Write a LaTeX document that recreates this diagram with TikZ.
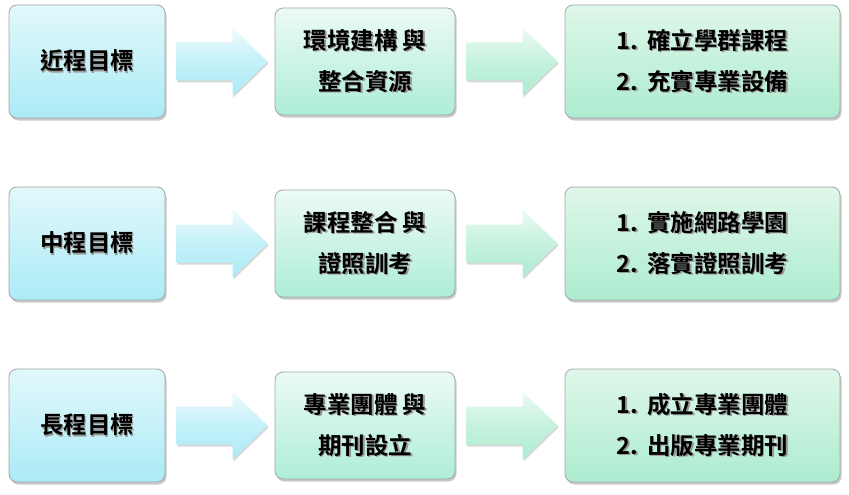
\documentclass[tikz,border=0pt]{standalone}
\usepackage{fontspec}
\newfontfamily\cjk{Noto Sans CJK TC}[BoldFont={Noto Sans CJK TC Bold}]
\usetikzlibrary{shadows,calc}
\definecolor{cyanA}{HTML}{E2F8FB}
\definecolor{cyanB}{HTML}{ABEBF6}
\definecolor{mintA}{HTML}{ECFAF6}
\definecolor{mintB}{HTML}{AEEDDA}
\definecolor{greenA}{HTML}{DFF7EA}
\definecolor{greenB}{HTML}{ADECD0}
\definecolor{boxline}{HTML}{A0A8A8}
\newcommand\shd[1]{\leavevmode\rlap{\kern1.5pt\raisebox{-1.5pt}{\textcolor{black!40}{#1}}}#1}
\tikzset{
  box/.style={draw=boxline, line width=0.8pt, rounded corners=8pt, anchor=center,
    font=\cjk\bfseries\fontsize{23.5}{41}\selectfont, align=center, text=black,
    drop shadow={shadow xshift=1.5pt, shadow yshift=-2.5pt, opacity=0.35, fill=black!60}},
  goalbox/.style={box, minimum width=156pt, minimum height=113pt,
    top color=cyanA, bottom color=cyanB, middle color=cyanA!50!cyanB},
  midbox/.style={box, minimum width=180pt, minimum height=107pt,
    top color=mintA, bottom color=mintB, middle color=mintA!50!mintB},
  endbox/.style={box, minimum width=275pt, minimum height=113pt,
    top color=greenA, bottom color=greenB, middle color=greenA!50!greenB},
  cyanarrow/.style={top color=cyanA!60!white, bottom color=cyanB, middle color=cyanB!70!white,
    drop shadow={shadow xshift=1pt, shadow yshift=-2pt, opacity=0.25, fill=black!60}},
  mintarrow/.style={top color=greenA!60!white, bottom color=greenB, middle color=greenB!70!white,
    drop shadow={shadow xshift=1pt, shadow yshift=-2pt, opacity=0.25, fill=black!60}},
}
\newcommand\blockarrow[3]{%
  \path[#3] let \p1=($(#1.east)+(11pt,0)$), \p2=($(#2.west)+(-7pt,0)$) in
    (\x1,\y1+19pt) -- (\x2-35pt,\y1+19pt) -- (\x2-35pt,\y1+34pt) -- (\x2,\y1)
    -- (\x2-35pt,\y1-34pt) -- (\x2-35pt,\y1-19pt) -- (\x1,\y1-19pt) -- cycle;}
\newcommand\num[1]{#1.\kern9pt}
\begin{document}
\begin{tikzpicture}[x=1pt,y=-1pt]
\useasboundingbox[fill=white] (0,0) rectangle (849,495);
% row 1
\node[goalbox] (g1) at (87,61.5) {\shd{近程目標}};
\node[midbox] (m1) at (365,61.5) {\shd{環境建構 與}\\\shd{整合資源}};
\node[endbox] (e1) at (702.5,61.5) {\shd{\num{1}確立學群課程}\\\shd{\num{2}充實專業設備}};
% row 2
\node[goalbox] (g2) at (87,243.5) {\shd{中程目標}};
\node[midbox] (m2) at (365,243.5) {\shd{課程整合 與}\\\shd{證照訓考}};
\node[endbox] (e2) at (702.5,243.5) {\shd{\num{1}實施網路學園}\\\shd{\num{2}落實證照訓考}};
% row 3
\node[goalbox] (g3) at (87,425.5) {\shd{長程目標}};
\node[midbox] (m3) at (365,425.5) {\shd{專業團體 與}\\\shd{期刊設立}};
\node[endbox] (e3) at (702.5,425.5) {\shd{\num{1}成立專業團體}\\\shd{\num{2}出版專業期刊}};
% arrows
\blockarrow{g1}{m1}{cyanarrow}
\blockarrow{m1}{e1}{mintarrow}
\blockarrow{g2}{m2}{cyanarrow}
\blockarrow{m2}{e2}{mintarrow}
\blockarrow{g3}{m3}{cyanarrow}
\blockarrow{m3}{e3}{mintarrow}
\end{tikzpicture}
\end{document}
